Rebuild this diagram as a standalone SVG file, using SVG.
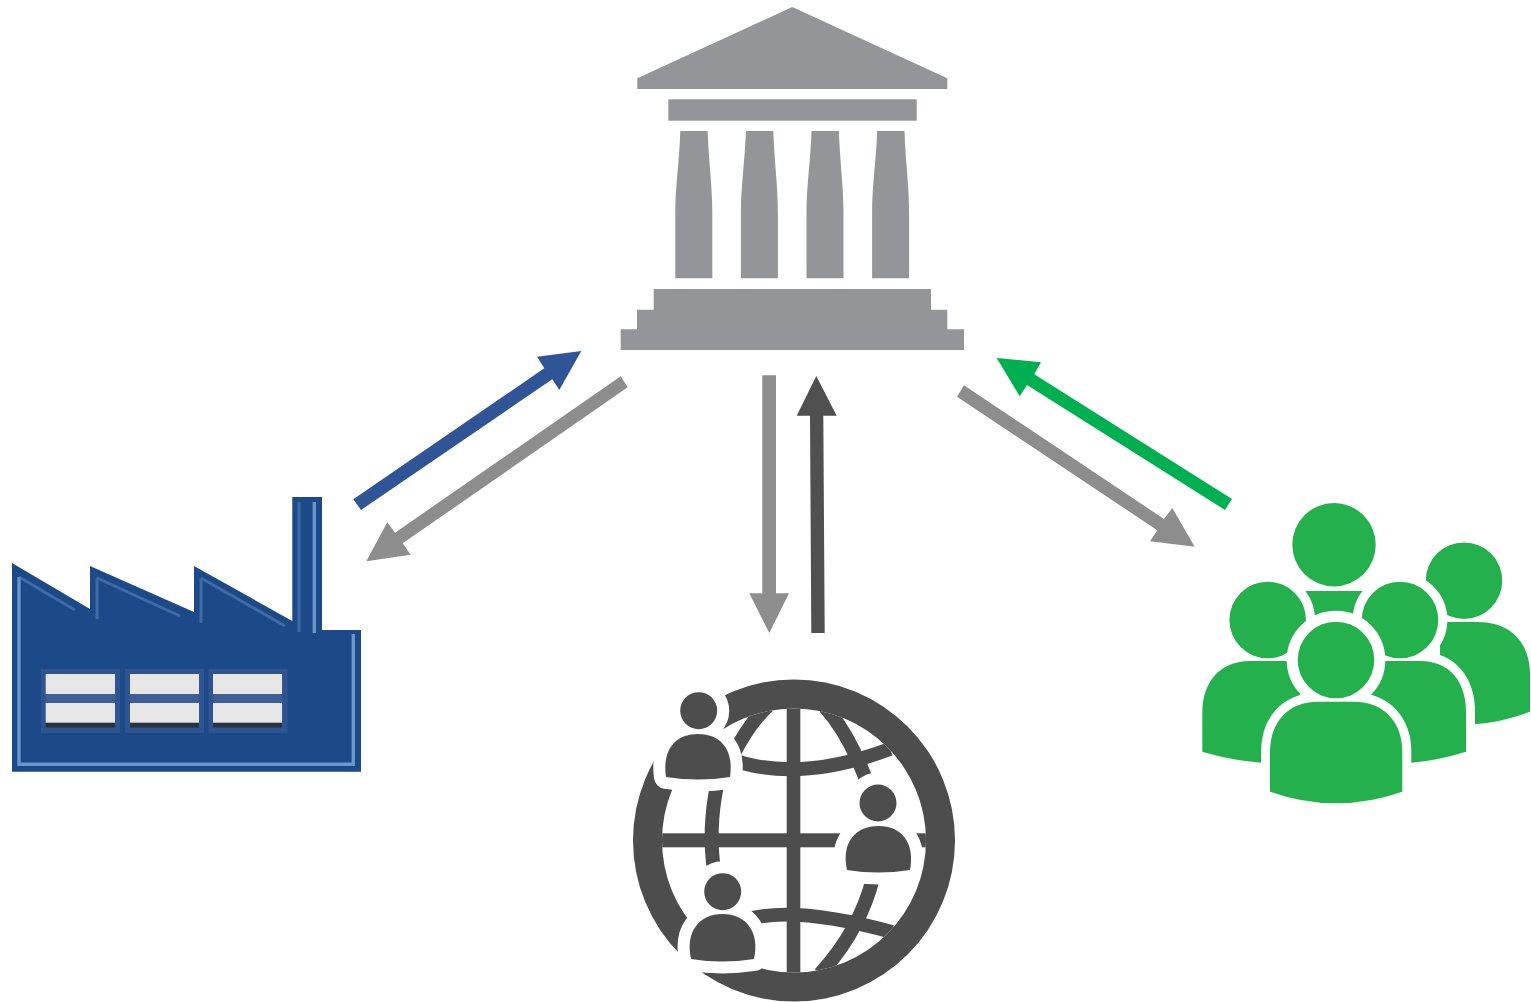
<svg xmlns="http://www.w3.org/2000/svg" width="1531" height="1002" viewBox="0 0 1531 1002">
<style>
.bank{fill:#939598}
.dark{fill:#4d4d4d}
.gline{fill:none;stroke:#4d4d4d;stroke-width:14}
.halo{fill:#fff;stroke:#fff;stroke-width:24;stroke-linejoin:round}
.halo2{fill:#fff;stroke:#fff;stroke-width:18;stroke-linejoin:round}
.halo3{fill:#fff;stroke:#fff;stroke-width:22}
.green{fill:#24b14d}
.hl{fill:none;stroke:#6a96c8;stroke-width:3.4}
.hl2{fill:none;stroke:#4f7bb3;stroke-width:3;opacity:.7}
.pane{fill:#e6e6e6}
.frame{fill:#3d5f95;opacity:.55}
.bar{fill:#3d5f95}
.shade{fill:#2b303c}
.a-blue{fill:#2f5597}
.a-gray{fill:#8d8d8d}
.a-dark{fill:#505050}
.a-green{fill:#00b050}
</style>
<defs>
<clipPath id="inner"><circle cx="794" cy="840.5" r="132"/></clipPath>
<filter id="soft" x="-5%" y="-5%" width="110%" height="110%"><feGaussianBlur stdDeviation="0.7"/></filter>
</defs>
<g id="bank" class="bank">
<polygon points="792.3,7 947.3,78.3 947.3,89 637.3,89 637.3,78.3"/>
<rect x="668.3" y="99.3" width="248.4" height="21.4"/>
<path d="M680.3,131H707.7C708.5,160 712.3,185 712.3,213V278.3H675.3V213C675.3,185 679.500,160 680.3,131Z"/>
<path d="M745.9,131H773.3C774.1,160 777.9,185 777.9,213V278.3H740.9V213C740.9,185 745.1,160 745.9,131Z"/>
<path d="M811.5,131H838.9C839.7,160 843.5,185 843.5,213V278.3H806.5V213C806.5,185 810.7,160 811.5,131Z"/>
<path d="M877.1,131H904.5C905.3,160 909.1,185 909.1,213V278.3H872.1V213C872.1,185 876.3,160 877.1,131Z"/>
<polygon points="653.7,289 931,289 931,309.7 947.3,309.7 947.3,329.3 964,329.3 964,350 620.7,350 620.7,329.3 637,329.3 637,309.7 653.7,309.7"/>
</g>
<g id="factory">
<g filter="url(#soft)">
<path fill="#1f4a87" d="M12,563L90,609V566L194,612V566L292.3,621V497H322V630H361V771.7H12Z"/>
<path class="hl" d="M19,577V764.3H353.3V634"/>
<path class="hl2" d="M19,577L75,610M97,578V619M97,578L180,616M201,578V623M201,578L285,626M299,502V632"/>
<path class="hl" d="M314.3,502V633"/>
<rect class="frame" x="41" y="669" width="79" height="64"/>
<rect class="frame" x="125" y="669" width="79" height="64"/>
<rect class="frame" x="208.500" y="669" width="79" height="64"/>
<rect class="bar" x="45.700" y="694" width="69.300" height="9"/>
<rect class="bar" x="130" y="694" width="69" height="9"/>
<rect class="bar" x="213" y="694" width="69" height="9"/>
<rect class="shade" x="45.700" y="722" width="69.300" height="5.500"/>
<rect class="shade" x="130" y="722" width="69" height="5.500"/>
<rect class="shade" x="213" y="722" width="69" height="5.500"/>
<rect class="pane" x="45.700" y="674" width="69.300" height="20"/>
<rect class="pane" x="130" y="674" width="69" height="20"/>
<rect class="pane" x="213" y="674" width="69" height="20"/>
<rect class="pane" x="45.700" y="703" width="69.300" height="19.700"/>
<rect class="pane" x="130" y="703" width="69" height="19.700"/>
<rect class="pane" x="213" y="703" width="69" height="19.700"/>
</g>
</g>
<g id="globe">
<path class="dark" fill-rule="evenodd" d="M633,840.5a161,161 0 1,0 322,0a161,161 0 1,0 -322,0ZM662,840.5a132,132 0 1,1 264,0a132,132 0 1,1 -264,0Z"/>
<g clip-path="url(#inner)">
<rect class="dark" x="786.700" y="700" width="13.600" height="285"/>
<rect class="dark" x="655" y="833.300" width="280" height="14"/>
<path class="gline" d="M725,757Q793,785 890,749"/>
<path class="gline" d="M745,920Q793,905 892,932"/>
<path class="gline" d="M825,707Q850,735 868,785"/>
<path class="gline" d="M768,706Q750,722 733,755"/>
<path class="gline" d="M717,785Q708,830 714,870"/>
<path class="gline" d="M873,878Q860,930 820,974"/>
</g>
<g id="globe-halos">
<circle class="halo" cx="698.700" cy="710.700" r="18.500"/>
<path class="halo" d="M666,777C662,750 675,734 698,734C721,734 734,750 730,777Q698,782 666,777Z"/>
<circle class="halo" cx="878" cy="803" r="18.500"/>
<path class="halo" d="M847,870C841,843 855,826 878.500,826C902,826 915,843 910,870Q878,875 847,870Z"/>
<circle class="halo" cx="722.700" cy="891.700" r="18.500"/>
<path class="halo" d="M691,959C685,932 699,914 722.500,914C746,914 760,932 754,959Q722,964 691,959Z"/>
</g>
<g class="dark">
<circle cx="698.700" cy="710.700" r="18.500"/>
<path d="M666,777C662,750 675,734 698,734C721,734 734,750 730,777Q698,782 666,777Z"/>
<circle cx="878" cy="803" r="18.500"/>
<path d="M847,870C841,843 855,826 878.500,826C902,826 915,843 910,870Q878,875 847,870Z"/>
<circle cx="722.700" cy="891.700" r="18.500"/>
<path d="M691,959C685,932 699,914 722.500,914C746,914 760,932 754,959Q722,964 691,959Z"/>
</g>
</g>
<g id="people">
<g class="green">
<circle cx="1334" cy="544.700" r="41.700"/>
<path d="M1305.700,591H1362.700L1350,640H1318Z"/>
<circle cx="1464" cy="580.700" r="38.300"/>
<path d="M1440,622H1478C1510,622 1530,642 1530,675V711.700Q1503,722 1475,724.300H1440Z"/>
</g>
<circle class="halo2" cx="1267.700" cy="620" r="38.300"/>
<circle class="halo2" cx="1400" cy="620" r="38.300"/>
<path class="halo2" d="M1370,661H1420C1450,661 1466,682 1466,712V751.700Q1440,760 1411.700,762.700H1370Z"/>
<g class="green">
<circle cx="1267.700" cy="620" r="38.300"/>
<path d="M1202.300,751.700V712C1202.300,682 1220,661 1250,661H1300V762.700H1261Q1230,760 1202.300,751.700Z"/>
<circle cx="1400" cy="620" r="38.300"/>
<path d="M1370,661H1420C1450,661 1466,682 1466,712V751.700Q1440,760 1411.700,762.700H1370Z"/>
</g>
<circle class="halo3" cx="1336" cy="660" r="38.300"/>
<path class="halo2" d="M1270,752C1270,722 1288,701.700 1318,701.700H1354C1384,701.700 1402.300,722 1402.300,752V791.700Q1336,815 1270,791.700Z"/>
<g class="green">
<circle cx="1336" cy="660" r="38.300"/>
<path d="M1270,752C1270,722 1288,701.700 1318,701.700H1354C1384,701.700 1402.300,722 1402.300,752V791.700Q1336,815 1270,791.700Z"/>
</g>
</g>
<g id="connectors">
<polygon class="a-blue" points="353.300,499.300 544.300,368.300 537,356.700 581.300,351 559.300,390 552.300,379.300 361,510"/>
<polygon class="a-gray" points="620.700,376.300 627.700,387.300 402.700,543.300 410.700,554.700 366.300,561.300 387.300,522.300 395,532.700"/>
<polygon class="a-gray" points="762.300,375.300 776,375.300 776,593.300 789,593.300 769.300,633 749.300,593.300 762.300,593.300"/>
<polygon class="a-dark" points="811.300,633 824.700,633 823.300,415.700 836.700,415.700 816.300,376 796.700,415.700 810,415.700"/>
<polygon class="a-green" points="1232,499 1225,510 1027,385 1019.700,396.300 996.700,358 1041,362.300 1034.300,374.300"/>
<polygon class="a-gray" points="964,385.300 957,396.700 1157.300,530.300 1150,541.300 1194.700,546.700 1172.300,508 1164,519"/>
</g>
</svg>
